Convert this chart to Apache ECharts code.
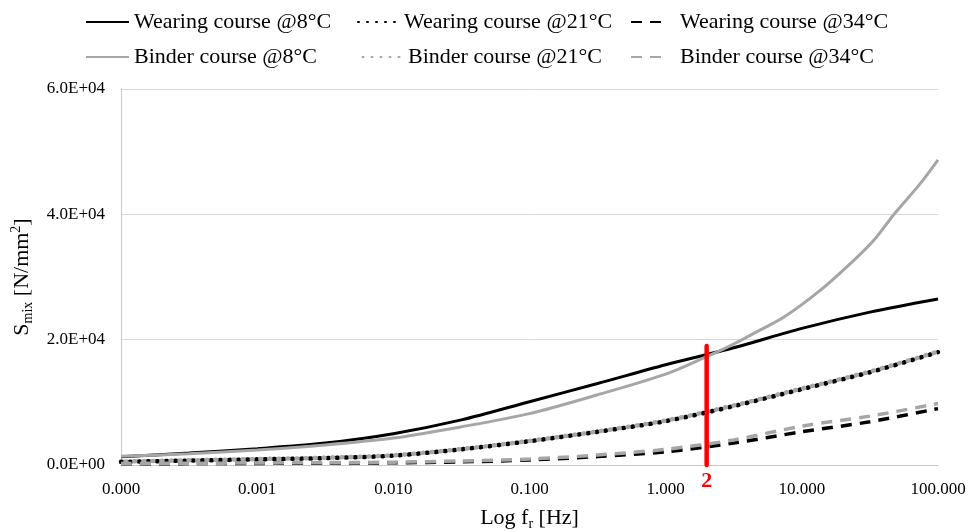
<!DOCTYPE html>
<html>
<head>
<meta charset="utf-8">
<script src="https://cdn.jsdelivr.net/npm/echarts@6/dist/echarts.min.js"></script>
<style>html,body{margin:0;padding:0;background:#fff}#c{width:971px;height:532px}</style>
</head>
<body>
<div id="c"></div>
<script>
// Frequencies (Hz) shared by most series
const freq = [0.0001, 0.000316, 0.001, 0.00316, 0.01, 0.0316, 0.1, 0.316, 1, 3.16, 10, 31.6, 100];
const wearing8 = [1300, 1900, 2600, 3500, 5000, 7200, 10100, 13000, 16000, 18700, 21800, 24400, 26500];
const wearing21 = [500, 700, 900, 1100, 1500, 2500, 3800, 5300, 7000, 9400, 12100, 14800, 18000];
const wearing34 = [200, 220, 250, 300, 350, 500, 800, 1350, 2100, 3500, 5300, 6900, 9000];
const binder21 = [550, 750, 950, 1150, 1550, 2550, 3850, 5350, 7100, 9500, 12200, 14900, 18100];
const binder34 = [250, 280, 320, 380, 450, 650, 950, 1600, 2500, 4000, 6200, 7800, 9800];
// Binder 8°C read at more points
const freqB8 = [0.0001, 0.000316, 0.001, 0.00316, 0.01, 0.0316, 0.1, 0.316, 1, 2, 3.16, 5, 7.4, 13.7, 24.2, 33.9, 47.9, 74, 100];
const binder8 = [1400, 1800, 2400, 3200, 4300, 6100, 8200, 11200, 14500, 17300, 19300, 21600, 23600, 27900, 32700, 35900, 40100, 44900, 48700];
// Marker line at 2 Hz
const markFreq = [2, 2];
const markVal = [0, 19000];
const markLabel = '2';
const xTicks = ['0.000', '0.001', '0.010', '0.100', '1.000', '10.000', '100.000'];

const names = ['Wearing course @8°C', 'Wearing course @21°C', 'Wearing course @34°C',
               'Binder course @8°C', 'Binder course @21°C', 'Binder course @34°C'];

const FONT = '"Liberation Serif", "Times New Roman", serif';
const BLACK = '#000000', GRAY = '#a6a6a6';

function pairs(xs, ys) { return xs.map((x, i) => [x, ys[i]]); }
function sci(v) {
  if (v === 0) return '0.0E+00';
  const e = Math.floor(Math.log10(v) + 1e-9);
  const m = v / Math.pow(10, e);
  return m.toFixed(1) + 'E+' + (e < 10 ? '0' : '') + e;
}

const dotType = [1, 8];
const dashType = [11, 8];

function lineSeries(name, xs, ys, color, type, width, cap, offset) {
  return {
    name: name, type: 'line', data: pairs(xs, ys), smooth: 0.3, symbol: 'none',
    showSymbol: false, clip: true,
    lineStyle: { color: color, width: width, type: type, cap: cap || 'butt', dashOffset: offset || 0 },
    itemStyle: { color: color }
  };
}

const series = [
  lineSeries(names[0], freq, wearing8, BLACK, 'solid', 3),
  lineSeries(names[1], freq, wearing21, BLACK, dotType, 4.5, 'round'),
  lineSeries(names[2], freq, wearing34, BLACK, dashType, 3.5),
  lineSeries(names[3], freqB8, binder8, GRAY, 'solid', 3),
  lineSeries(names[4], freq, binder21, GRAY, dotType, 4.5, 'round', 4.5),
  lineSeries(names[5], freq, binder34, GRAY, dashType, 3.5),
  {
    name: 'mark', type: 'line', symbol: 'circle', symbolSize: 0.1, showSymbol: true, clip: false, z: 5,
    lineStyle: { color: '#ff0000', width: 4.5, cap: 'round' },
    itemStyle: { color: '#ff0000' },
    data: [
      { value: [markFreq[0], markVal[0]],
        label: { show: true, position: 'bottom', distance: 5, formatter: markLabel,
                 color: '#ff0000', fontFamily: FONT, fontWeight: 'bold', fontSize: 22 } },
      { value: [markFreq[1], markVal[1]] }
    ]
  }
];

function legendItem(i, left, top, iconW, pad) {
  return {
    data: [names[i]], left: left, top: top, padding: 0, orient: 'horizontal',
    itemWidth: iconW, itemHeight: 14, selectedMode: false,
    itemStyle: { opacity: 0 },
    textStyle: { fontFamily: FONT, fontSize: 22, color: '#000', padding: [0, 0, 0, pad || 0] }
  };
}

const chart = echarts.init(document.getElementById('c'), null, { renderer: 'canvas' });
chart.setOption({
  backgroundColor: '#fff',
  animation: false,
  legend: [
    legendItem(0, 85, 11, 43, 0),
    legendItem(1, 357, 11, 43, -2),
    legendItem(2, 630, 11, 36, 8),
    legendItem(3, 85, 46, 43, 0),
    legendItem(4, 357, 46, 43, 2),
    legendItem(5, 630, 46, 36, 8)
  ],
  grid: { left: 121, right: 33, top: 89, bottom: 67, containLabel: false, outerBoundsMode: 'none' },
  xAxis: {
    type: 'log', logBase: 10, min: 0.0001, max: 100,
    name: '{n|Log f}{sub|r}{n| [Hz]}', nameLocation: 'middle', nameGap: 40, nameMoveOverlap: false,
    nameTextStyle: {
      rich: {
        n: { fontFamily: FONT, fontSize: 22, color: '#000', lineHeight: 26 },
        sub: { fontFamily: FONT, fontSize: 14, color: '#000', lineHeight: 26, verticalAlign: 'bottom', padding: [12, 0, 0, 0] }
      }
    },
    axisLine: { show: true, lineStyle: { color: '#c8c8c8', width: 1 } },
    axisTick: { show: false },
    splitLine: { show: false },
    minorTick: { show: false },
    axisLabel: {
      fontFamily: FONT, fontSize: 17, color: '#000', margin: 16,
      formatter: function (v) {
        const k = Math.round(Math.log10(v)) + 4;
        return xTicks[k] !== undefined ? xTicks[k] : v.toFixed(3);
      }
    }
  },
  yAxis: {
    type: 'value', min: 0, max: 60000, interval: 20000,
    name: '{n|S}{sub|mix}{n| [N/mm}{sup|2}{n|]}', nameLocation: 'middle', nameGap: 86, nameRotate: 90, nameMoveOverlap: false,
    nameTextStyle: {
      rich: {
        n: { fontFamily: FONT, fontSize: 22, color: '#000', lineHeight: 26 },
        sub: { fontFamily: FONT, fontSize: 14, color: '#000', lineHeight: 26, verticalAlign: 'bottom', padding: [12, 0, 0, 0] },
        sup: { fontFamily: FONT, fontSize: 14, color: '#000', lineHeight: 26, verticalAlign: 'top', padding: [0, 0, 10, 0] }
      }
    },
    axisLine: { show: true, lineStyle: { color: '#c8c8c8', width: 1 } },
    axisTick: { show: false },
    splitLine: { show: true, lineStyle: { color: '#d9d9d9', width: 1 } },
    axisLabel: { fontFamily: FONT, fontSize: 17, color: '#000', margin: 16, formatter: sci }
  },
  series: series
});
</script>
</body>
</html>
